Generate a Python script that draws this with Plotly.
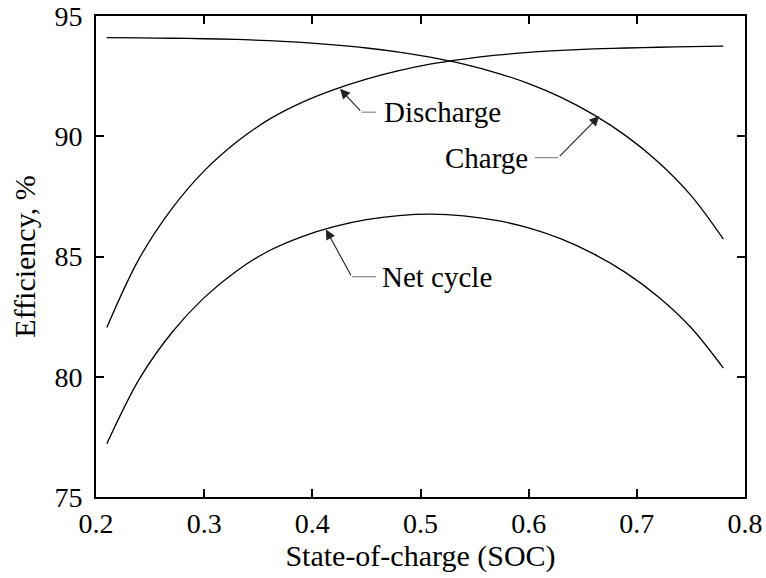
import plotly.graph_objects as go

soc = [0.21, 0.24, 0.27, 0.30, 0.33, 0.36, 0.39, 0.42, 0.45, 0.48, 0.51,
       0.54, 0.57, 0.60, 0.63, 0.66, 0.69, 0.72, 0.75, 0.78]
discharge = [82.05, 84.92, 86.98, 88.56, 89.76, 90.70, 91.40, 91.94, 92.38, 92.73, 93.01,
             93.21, 93.37, 93.49, 93.57, 93.63, 93.67, 93.70, 93.73, 93.75]
charge = [94.10, 94.09, 94.075, 94.055, 94.025, 93.975, 93.90, 93.80, 93.67, 93.50, 93.28,
          93.00, 92.64, 92.19, 91.62, 90.90, 90.015, 88.92, 87.54, 85.72]
net_cycle = [77.21, 79.90, 81.83, 83.29, 84.40, 85.24, 85.82, 86.24, 86.53, 86.70, 86.76,
             86.69, 86.50, 86.19, 85.73, 85.11, 84.32, 83.32, 82.05, 80.36]

x_ticks = [0.2, 0.3, 0.4, 0.5, 0.6, 0.7, 0.8]
y_ticks = [75, 80, 85, 90, 95]

# labels: (text, tip_x, tip_y, elbow_x, elbow_y, hend_x, text_x, anchor)
labels = [
    ("Discharge", 0.4256, 91.97, 0.4456, 91.0, 0.4589, 0.4644, "left"),
    ("Charge", 0.6653, 90.84, 0.6274, 89.11, 0.6058, 0.6012, "right"),
    ("Net cycle", 0.4126, 86.12, 0.4364, 84.16, 0.4589, 0.4625, "left"),
]

FONT = "Liberation Serif"

fig = go.Figure()
for ys in (charge, discharge, net_cycle):
    fig.add_trace(go.Scatter(x=soc, y=ys, mode="lines",
                             line=dict(color="black", width=1.3, shape="spline"),
                             showlegend=False, hoverinfo="skip"))

annotations = []
shapes = []
for text, tx, ty, ex, ey, hx, lx, anc in labels:
    annotations.append(dict(x=tx, y=ty, ax=ex, ay=ey, xref="x", yref="y",
                            axref="x", ayref="y", text="", showarrow=True,
                            arrowhead=2, arrowsize=1.8, arrowwidth=1.1,
                            arrowcolor="#222", standoff=0, startstandoff=0))
    shapes.append(dict(type="line", xref="x", yref="y", x0=ex, y0=ey, x1=hx, y1=ey,
                       line=dict(color="#888", width=1.2)))
    annotations.append(dict(x=lx, y=ey, xref="x", yref="y", text=text,
                            showarrow=False, xanchor=anc, yanchor="middle",
                            font=dict(family=FONT, size=29, color="black")))

fig.update_layout(
    width=766, height=578,
    margin=dict(l=96, r=21, t=16, b=81),
    plot_bgcolor="white", paper_bgcolor="white",
    font=dict(family=FONT, size=28, color="black"),
    annotations=annotations, shapes=shapes,
    xaxis=dict(range=[0.2, 0.8], tickvals=x_ticks, ticktext=[str(v) for v in x_ticks],
               ticks="inside", ticklen=8, tickwidth=2, tickcolor="black",
               tickfont=dict(family=FONT, size=28, color="black"),
               showline=True, linewidth=2, linecolor="black", mirror="ticks",
               showgrid=False, zeroline=False, automargin=False,
               title=dict(text="State-of-charge (SOC)",
                          font=dict(family=FONT, size=30, color="black"), standoff=4)),
    yaxis=dict(range=[75, 95], tickvals=y_ticks,
               ticks="inside", ticklen=8, tickwidth=2, tickcolor="black",
               tickfont=dict(family=FONT, size=28, color="black"),
               showline=True, linewidth=2, linecolor="black", mirror="ticks",
               showgrid=False, zeroline=False, automargin=False,
               ticklabelstandoff=6,
               title=dict(text="Efficiency, %",
                          font=dict(family=FONT, size=30, color="black"), standoff=10)),
)

fig.write_html("out.html")
